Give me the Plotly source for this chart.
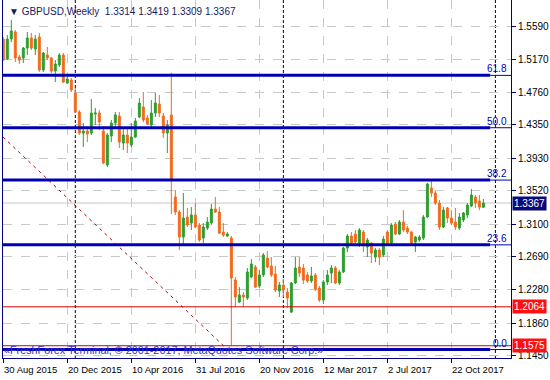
import pandas as pd
import plotly.graph_objects as go

# ---------------- data ----------------
first_week = "2015-08-30"

opens = [1.5427, 1.5176, 1.5427, 1.5515, 1.5201, 1.5189, 1.5314, 1.5440, 1.5302, 1.5452,
         1.5038, 1.5226, 1.5189, 1.5025, 1.5101, 1.5226, 1.4875, 1.4912, 1.4749, 1.4510,
         1.4247, 1.4272, 1.4247, 1.4485, 1.4498, 1.4272, 1.3845, 1.4209, 1.4372, 1.4460,
         1.4121, 1.4221, 1.4096, 1.4196, 1.4447, 1.4573, 1.4435, 1.4347, 1.4498, 1.4611,
         1.4460, 1.4247, 1.4473, 1.3443, 1.3254, 1.2940, 1.3191, 1.3116, 1.3217, 1.3091,
         1.2928, 1.3053, 1.3116, 1.3292, 1.3254, 1.3003, 1.2953, 1.2928, 1.2400, 1.2124,
         1.2212, 1.2174, 1.2438, 1.2564, 1.2325, 1.2463, 1.2677, 1.2576, 1.2476, 1.2262,
         1.2337, 1.2249, 1.1998, 1.2363, 1.2564, 1.2551, 1.2463, 1.2388, 1.2463, 1.2300,
         1.2149, 1.2375, 1.2488, 1.2551, 1.2363, 1.2501, 1.2802, 1.2953, 1.2978, 1.2865,
         1.3003, 1.2815, 1.2865, 1.2689, 1.2777, 1.2714, 1.3003, 1.2865, 1.3104, 1.2978,
         1.3129, 1.3053, 1.3003, 1.2877, 1.2903, 1.2928, 1.3191, 1.3556, 1.3493, 1.3367,
         1.3066, 1.3305, 1.3179, 1.3129, 1.3053, 1.3154, 1.3217, 1.3330, 1.3443, 1.3392,
         1.3314]
highs = [1.5452, 1.5477, 1.5666, 1.5540, 1.5226, 1.5327, 1.5515, 1.5503, 1.5477, 1.5503,
         1.5264, 1.5327, 1.5201, 1.5163, 1.5251, 1.5251, 1.4950, 1.4937, 1.4812, 1.4535,
         1.4372, 1.4309, 1.4674, 1.4560, 1.4535, 1.4309, 1.4247, 1.4410, 1.4510, 1.4510,
         1.4322, 1.4322, 1.4372, 1.4435, 1.4686, 1.4761, 1.4473, 1.4661, 1.4749, 1.4724,
         1.4498, 1.4410, 1.5004, 1.3531, 1.3279, 1.3493, 1.3305, 1.3317, 1.3367, 1.3116,
         1.3116, 1.3191, 1.3355, 1.3443, 1.3317, 1.3116, 1.3003, 1.2953, 1.2438, 1.2312,
         1.2249, 1.2551, 1.2664, 1.2589, 1.2526, 1.2739, 1.2764, 1.2689, 1.2576, 1.2375,
         1.2413, 1.2300, 1.2375, 1.2689, 1.2689, 1.2601, 1.2501, 1.2564, 1.2488, 1.2325,
         1.2400, 1.2526, 1.2589, 1.2576, 1.2526, 1.2815, 1.2978, 1.3003, 1.3028, 1.3053,
         1.3028, 1.2928, 1.2877, 1.2802, 1.2802, 1.2953, 1.3028, 1.3116, 1.3129, 1.3154,
         1.3279, 1.3079, 1.3016, 1.2953, 1.2965, 1.3217, 1.3619, 1.3656, 1.3518, 1.3405,
         1.3317, 1.3317, 1.3279, 1.3305, 1.3242, 1.3254, 1.3367, 1.3543, 1.3468, 1.3468,
         1.3419]
lows = [1.5151, 1.5163, 1.5389, 1.5138, 1.5113, 1.5126, 1.5226, 1.5289, 1.5226, 1.5013,
        1.5013, 1.5163, 1.5000, 1.4887, 1.5075, 1.4875, 1.4862, 1.4761, 1.4498, 1.4221,
        1.4071, 1.4133, 1.4221, 1.4347, 1.4284, 1.3857, 1.3820, 1.4133, 1.4322, 1.4058,
        1.4033, 1.3995, 1.4071, 1.4184, 1.4435, 1.4385, 1.4347, 1.4322, 1.4447, 1.4447,
        1.4184, 1.3995, 1.3229, 1.3217, 1.2777, 1.2840, 1.3066, 1.3028, 1.3053, 1.2877,
        1.2865, 1.3028, 1.3091, 1.3242, 1.2978, 1.2940, 1.2940, 1.1575, 1.2061, 1.2111,
        1.2061, 1.2149, 1.2426, 1.2300, 1.2300, 1.2438, 1.2551, 1.2438, 1.2249, 1.2187,
        1.2187, 1.2049, 1.1986, 1.2350, 1.2438, 1.2350, 1.2363, 1.2363, 1.2262, 1.2124,
        1.2099, 1.2337, 1.2363, 1.2350, 1.2337, 1.2488, 1.2752, 1.2840, 1.2827, 1.2815,
        1.2752, 1.2689, 1.2614, 1.2626, 1.2589, 1.2689, 1.2840, 1.2840, 1.2965, 1.2965,
        1.3003, 1.2978, 1.2840, 1.2752, 1.2877, 1.2903, 1.3179, 1.3443, 1.3342, 1.3028,
        1.3053, 1.3116, 1.3091, 1.3028, 1.3028, 1.3129, 1.3179, 1.3317, 1.3305, 1.3279,
        1.3309]
closes = [1.5163, 1.5427, 1.5528, 1.5189, 1.5163, 1.5314, 1.5440, 1.5314, 1.5427, 1.5038,
          1.5251, 1.5189, 1.5025, 1.5113, 1.5226, 1.4887, 1.4925, 1.4787, 1.4510, 1.4247,
          1.4272, 1.4234, 1.4498, 1.4498, 1.4385, 1.3870, 1.4221, 1.4372, 1.4473, 1.4133,
          1.4221, 1.4121, 1.4196, 1.4397, 1.4623, 1.4410, 1.4360, 1.4498, 1.4623, 1.4498,
          1.4247, 1.4347, 1.3656, 1.3254, 1.2940, 1.3179, 1.3091, 1.3217, 1.3066, 1.2903,
          1.3066, 1.3129, 1.3292, 1.3254, 1.2990, 1.2965, 1.2978, 1.2426, 1.2187, 1.2212,
          1.2187, 1.2501, 1.2601, 1.2312, 1.2463, 1.2714, 1.2564, 1.2463, 1.2275, 1.2337,
          1.2275, 1.2174, 1.2363, 1.2551, 1.2488, 1.2400, 1.2388, 1.2451, 1.2287, 1.2149,
          1.2375, 1.2463, 1.2551, 1.2363, 1.2501, 1.2802, 1.2953, 1.2865, 1.2877, 1.3028,
          1.2865, 1.2903, 1.2739, 1.2777, 1.2689, 1.2915, 1.2865, 1.3091, 1.2978, 1.3129,
          1.3028, 1.3003, 1.2865, 1.2940, 1.2940, 1.3191, 1.3606, 1.3493, 1.3367, 1.3066,
          1.3279, 1.3179, 1.3116, 1.3066, 1.3191, 1.3242, 1.3342, 1.3468, 1.3367, 1.3317,
          1.3367]

price_ticks = [1.5590, 1.5170, 1.4760, 1.4350, 1.3930, 1.3520, 1.3100,
               1.2690, 1.2280, 1.1860, 1.1450]
date_ticks = ["2015-08-30", "2015-12-20", "2016-04-10", "2016-07-31",
              "2016-11-20", "2017-03-12", "2017-07-02", "2017-10-22"]
date_tick_labels = ["30 Aug 2015", "20 Dec 2015", "10 Apr 2016", "31 Jul 2016",
                    "20 Nov 2016", "12 Mar 2017", "2 Jul 2017", "22 Oct 2017"]
year_breaks = ["2016-01-03", "2017-01-01", "2018-01-07"]

fib_low = 1.1527
fib_high = 1.7099
fib_levels = [0.0, 23.6, 38.2, 50.0, 61.8]
red_levels = [1.2064, 1.1575]
bid_price = 1.3367
trend_dates = ["2015-08-29 12:00", "2016-09-19 10:00"]
trend_prices = [1.4196, 1.1567]

symbol_text = "GBPUSD,Weekly"
copyright_text = "«FreshForex Terminal, © 2001-2017, MetaQuotes Software Corp.»"

# ---------------- figure ----------------
dates = pd.date_range(first_week, periods=len(opens), freq="7D")
t0 = pd.Timestamp(first_week)
x_start = t0 - pd.Timedelta(weeks=0.075)
x_end = t0 + pd.Timedelta(weeks=126.9)
fib_thick_end = t0 + pd.Timedelta(weeks=121.7)

GREEN = "#2f9e2f"
ORANGE = "#f26b1d"
NAVY = "#000080"
FIBBLUE = "#0000b0"
RED = "#d40000"
FONT = "Liberation Sans"

fig = go.Figure()
fig.add_trace(go.Candlestick(
    x=dates, open=opens, high=highs, low=lows, close=closes,
    increasing=dict(line=dict(color=GREEN, width=1), fillcolor=GREEN),
    decreasing=dict(line=dict(color=ORANGE, width=1), fillcolor=ORANGE),
    whiskerwidth=0, showlegend=False, hoverinfo="skip",
))

shapes = []
shapes.append(dict(type="line", xref="paper", x0=0, x1=1, yref="y", y0=bid_price, y1=bid_price,
                   line=dict(color="#c8c8c8", width=1), layer="below"))
for d in year_breaks:
    shapes.append(dict(type="line", xref="x", x0=d, x1=d, yref="paper", y0=0, y1=1,
                       line=dict(color="#000033", width=1, dash="3px,2px"), layer="below"))
shapes.append(dict(type="line", xref="x", yref="y",
                   x0=trend_dates[0], x1=trend_dates[1], y0=trend_prices[0], y1=trend_prices[1],
                   line=dict(color="#b00000", width=1, dash="3px,4px"), layer="above"))
for p in red_levels:
    shapes.append(dict(type="line", xref="paper", x0=0, x1=1, yref="y", y0=p, y1=p,
                       line=dict(color=RED, width=1), layer="above"))
annotations = []
for lv in fib_levels:
    p = fib_low + (fib_high - fib_low) * lv / 100.0
    shapes.append(dict(type="line", xref="x", x0=x_start, x1=fib_thick_end, yref="y", y0=p, y1=p,
                       line=dict(color=FIBBLUE, width=3), layer="above"))
    shapes.append(dict(type="line", xref="x", x0=fib_thick_end, x1=x_end, yref="y", y0=p, y1=p,
                       line=dict(color=FIBBLUE, width=1), layer="above"))
    annotations.append(dict(x=1, xref="paper", xanchor="right", xshift=-2,
                            y=p, yref="y", yanchor="bottom", yshift=-1,
                            text=f"{lv:.1f}", showarrow=False,
                            font=dict(family=FONT, size=10, color=FIBBLUE)))

for d, lab in zip(date_ticks, date_tick_labels):
    annotations.append(dict(x=d, xref="x", xanchor="left", xshift=-1,
                            y=0, yref="paper", yanchor="top", yshift=-4,
                            text=lab, showarrow=False,
                            font=dict(family=FONT, size=9.5, color="black")))

for p, bg in [(closes[-1], "#0a0a78"), (red_levels[0], "#ff1010"), (red_levels[1], "#ff1010")]:
    annotations.append(dict(x=1, xref="paper", xanchor="left", xshift=1,
                            y=p, yref="y", yanchor="middle",
                            text=f"{p:.4f}", showarrow=False, bgcolor=bg, borderpad=1,
                            font=dict(family=FONT, size=10, color="white")))

title_text = (f"▼ {symbol_text}  {opens[-1]:.4f} {highs[-1]:.4f} "
              f"{lows[-1]:.4f} {closes[-1]:.4f}")
annotations.append(dict(x=0, xref="paper", xanchor="left", xshift=4,
                        y=1, yref="paper", yanchor="top", yshift=-4,
                        text=title_text, showarrow=False,
                        font=dict(family=FONT, size=10, color="#1a1a5e")))
annotations.append(dict(x=0, xref="paper", xanchor="left", xshift=-1,
                        y=0.0223, yref="paper", yanchor="middle",
                        text=copyright_text, showarrow=False,
                        font=dict(family=FONT, size=10.8, color="#3434c8")))

fig.update_layout(
    width=550, height=380,
    margin=dict(l=3, r=39, t=0, b=22),
    paper_bgcolor="white", plot_bgcolor="white",
    showlegend=False,
    shapes=shapes, annotations=annotations,
    xaxis=dict(type="date", range=[x_start, x_end], rangeslider=dict(visible=False),
               tickvals=date_ticks, showticklabels=False,
               ticks="outside", ticklen=4, tickcolor=NAVY,
               showgrid=True, gridcolor="#c8c8c8", griddash="dash", gridwidth=1,
               showline=True, linecolor=NAVY, linewidth=1, mirror=False,
               zeroline=False, fixedrange=True),
    yaxis=dict(side="right", range=[1.1421, 1.5917],
               tickvals=price_ticks, ticktext=[f"{v:.4f}" for v in price_ticks],
               ticks="outside", ticklen=4, tickcolor=NAVY,
               tickfont=dict(family=FONT, size=10, color="black"),
               showgrid=True, gridcolor="#c8c8c8", griddash="dash", gridwidth=1,
               showline=True, linecolor=NAVY, linewidth=1, mirror=True,
               zeroline=False, fixedrange=True),
)

fig.write_html("out.html")
